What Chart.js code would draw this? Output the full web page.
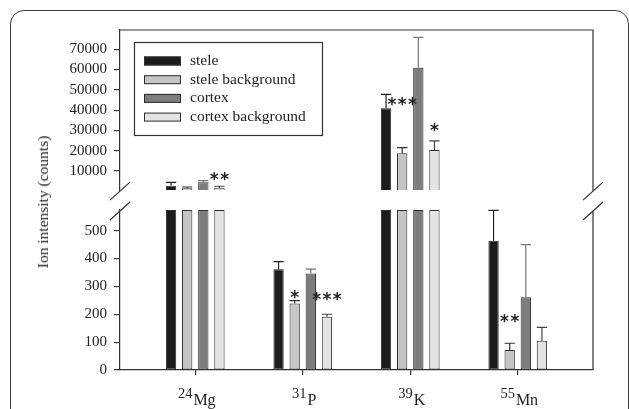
<!DOCTYPE html>
<html>
<head>
<meta charset="utf-8">
<script src="https://cdn.jsdelivr.net/npm/chart.js@4.4.1/dist/chart.umd.min.js"></script>
<style>
  html, body { margin: 0; padding: 0; background: #fff; overflow: hidden; }
  body { width: 629px; height: 409px; position: relative; }
  .box { position: absolute; left: 10px; top: 10px; width: 619px; height: 440px;
         border: 1.5px solid #3a3a3a; border-radius: 14px; box-sizing: border-box; }
  canvas { position: absolute; left: 0; }
  #upper { top: 0; }
  #lower { top: 190px; }
  .ytitle { position: absolute; left: 43px; top: 202px; transform: translate(-50%, -50%) rotate(-90deg);
            font: 15.5px "Liberation Serif"; color: #222; white-space: nowrap; }
</style>
</head>
<body>
<div class="box"></div>
<canvas id="upper" width="629" height="215"></canvas>
<canvas id="lower" width="629" height="219"></canvas>
<div class="ytitle">Ion intensity (counts)</div>
<script>
// ions on the x axis
const masses = ['24', '31', '39', '55'];
const elements = ['Mg', 'P', 'K', 'Mn'];
const seriesNames = ['stele', 'stele background', 'cortex', 'cortex background'];

// mean ion intensity (counts) and error (upper bar only)
const stele = [2750, 361, 40900, 464];
const steleErr = [1680, 28, 6900, 109];
const steleBg = [1470, 239, 18700, 72];
const steleBgErr = [640, 10, 2800, 24];
const cortex = [4430, 346, 60900, 261];
const cortexErr = [790, 16, 15000, 189];
const cortexBg = [1770, 191, 20350, 105];
const cortexBgErr = [690, 9, 4450, 48];

// broken y axis
const lowerTicks = [0, 100, 200, 300, 400, 500];
const upperTicks = [10000, 20000, 30000, 40000, 50000, 60000, 70000];
const lowerMax = 574;
const upperMax = 79500;

// significance stars: [ion, series, stars, level in counts]
const marks = [
    [0, 3, '**', 8000],
    [1, 1, '*', 276],
    [1, 3, '***', 266],
    [2, 1, '***', 44500],
    [2, 3, '*', 31800],
    [3, 1, '**', 190]
];

const values = [stele, steleBg, cortex, cortexBg];
const errors = [steleErr, steleBgErr, cortexErr, cortexBgErr];
const fills = ['#1c1c1c', '#c5c5c5', '#7d7d7d', '#e3e3e3'];
const errColors = ['#222', '#333', '#777', '#444'];
const lineColor = '#333';

Chart.defaults.font.family = '"Liberation Serif", serif';
Chart.defaults.color = '#222';

function datasetsFor(panel) {
    return seriesNames.map((name, s) => ({
        label: name,
        data: values[s].map((v, i) => ({
            x: i + 1,
            y: panel === 'upper' ? (v > lowerMax ? v : null) : Math.min(v, lowerMax)
        })),
        backgroundColor: fills[s],
        borderColor: '#2e2e2e',
        borderWidth: 1,
        borderSkipped: false,
        categoryPercentage: 0.6,
        barPercentage: 0.64
    }));
}

const errorBars = {
    id: 'errorBars',
    afterDatasetsDraw(chart) {
        const { ctx, chartArea, scales: { y } } = chart;
        values.forEach((vals, s) => {
            const meta = chart.getDatasetMeta(s);
            vals.forEach((v, i) => {
                const bar = meta.data[i];
                if (!bar || v < y.min || v > y.max) return;
                const base = y.getPixelForValue(v);
                const top = Math.max(y.getPixelForValue(v + errors[s][i]), chartArea.top);
                const half = bar.width / 2;
                ctx.save();
                ctx.strokeStyle = errColors[s];
                ctx.lineWidth = 1.2;
                ctx.beginPath();
                ctx.moveTo(bar.x, base);
                ctx.lineTo(bar.x, top);
                ctx.moveTo(bar.x - half, top);
                ctx.lineTo(bar.x + half, top);
                ctx.stroke();
                ctx.restore();
            });
        });
    }
};

const stars = {
    id: 'stars',
    afterDatasetsDraw(chart) {
        const { ctx, scales: { y } } = chart;
        const upper = chart.canvas.id === 'upper';
        marks.forEach(([i, s, txt, level]) => {
            if ((level > lowerMax) !== upper) return;
            const bar = chart.getDatasetMeta(s).data[i];
            const cy = y.getPixelForValue(level);
            ctx.save();
            ctx.fillStyle = '#222';
            ctx.font = 'bold 17px "DejaVu Sans"';
            ctx.textAlign = 'center';
            ctx.textBaseline = 'alphabetic';
            for (let k = 0; k < txt.length; k++) {
                const cx = bar.x + (k - (txt.length - 1) / 2) * 10.3;
                ctx.fillText('*', cx, cy + 9.5);
            }
            ctx.restore();
        });
    }
};

// top/right edges of the frame and the // break marks
const frame = {
    id: 'frame',
    afterDraw(chart) {
        const { ctx, chartArea: a } = chart;
        const upper = chart.canvas.id === 'upper';
        ctx.save();
        ctx.strokeStyle = lineColor;
        ctx.lineWidth = 1.2;
        ctx.beginPath();
        if (upper) {
            ctx.moveTo(a.left, a.top);
            ctx.lineTo(a.right, a.top);
            ctx.lineTo(a.right, a.bottom + 1);
        } else {
            ctx.moveTo(a.right, a.top + 1);
            ctx.lineTo(a.right, a.bottom);
        }
        const cy = upper ? a.bottom + 1 : a.top + 1;
        [a.left, a.right].forEach(x => {
            ctx.moveTo(x - 10, cy + 9);
            ctx.lineTo(x + 10, cy - 9);
        });
        ctx.stroke();
        ctx.restore();
    }
};

const legendBox = {
    id: 'legendBox',
    afterDraw(chart) {
        if (chart.canvas.id !== 'upper') return;
        const ctx = chart.ctx;
        ctx.save();
        ctx.strokeStyle = lineColor;
        ctx.lineWidth = 1.2;
        ctx.strokeRect(134.5, 42.5, 188, 93);
        ctx.font = '15.5px "Liberation Serif"';
        ctx.textBaseline = 'middle';
        seriesNames.forEach((name, s) => {
            const cy = 61 + s * 18.7;
            ctx.fillStyle = fills[s];
            ctx.fillRect(144, cy - 4.5, 37, 9);
            ctx.strokeStyle = '#2e2e2e';
            ctx.lineWidth = 1;
            ctx.strokeRect(144.5, cy - 4, 36, 8);
            ctx.fillStyle = '#222';
            ctx.fillText(name, 190, cy);
        });
        ctx.restore();
    }
};

const ionLabels = {
    id: 'ionLabels',
    afterDraw(chart) {
        if (chart.canvas.id !== 'lower') return;
        const { ctx, chartArea: a, scales: { x } } = chart;
        ctx.save();
        ctx.fillStyle = '#222';
        ctx.textBaseline = 'alphabetic';
        masses.forEach((m, i) => {
            const px = x.getPixelForValue(i + 1);
            ctx.font = '14.5px "Liberation Serif"';
            const wm = ctx.measureText(m).width;
            ctx.font = '16px "Liberation Serif"';
            const we = ctx.measureText(elements[i]).width;
            const left = px + 1 - (wm + we) / 2;
            ctx.font = '14.5px "Liberation Serif"';
            ctx.fillText(m, left, a.bottom + 28);
            ctx.font = '16px "Liberation Serif"';
            ctx.fillText(elements[i], left + wm + 1, a.bottom + 35);
        });
        ctx.restore();
    }
};

function xAxis(show) {
    return {
        type: 'linear',
        min: 0.3,
        max: 4.7,
        offset: false,
        display: show,
        afterBuildTicks: s => { s.ticks = masses.map((m, i) => ({ value: i + 1 })); },
        afterFit: s => { s.height = show ? 39 : 0; },
        ticks: { display: false },
        grid: { offset: false, drawOnChartArea: false, tickLength: 5, color: lineColor, lineWidth: 1.2 },
        border: { display: true, color: lineColor, width: 1.2 }
    };
}

function yAxis(min, max, ticks) {
    return {
        min: min,
        max: max,
        afterBuildTicks: s => { s.ticks = ticks.map(v => ({ value: v })); },
        afterFit: s => { s.width = 120; },
        ticks: { font: { size: 15 }, color: '#222', padding: 7, callback: v => String(v) },
        grid: { drawOnChartArea: false, tickLength: 6, color: lineColor, lineWidth: 1.2 },
        border: { display: true, color: lineColor, width: 1.2 }
    };
}

function makeChart(id, panel) {
    const upper = panel === 'upper';
    return new Chart(document.getElementById(id), {
        type: 'bar',
        data: { datasets: datasetsFor(panel) },
        options: {
            responsive: false,
            animation: false,
            layout: { padding: upper ? { top: 30, right: 36, bottom: 24.9, left: 0 } : { top: 20, right: 36, bottom: 0, left: 0 } },
            plugins: { legend: { display: false }, tooltip: { enabled: false } },
            scales: {
                x: xAxis(!upper),
                y: upper ? yAxis(lowerMax, upperMax, upperTicks) : yAxis(0, lowerMax, lowerTicks)
            }
        },
        plugins: [errorBars, stars, frame, legendBox, ionLabels]
    });
}

makeChart('upper', 'upper');
makeChart('lower', 'lower');
</script>
</body>
</html>
